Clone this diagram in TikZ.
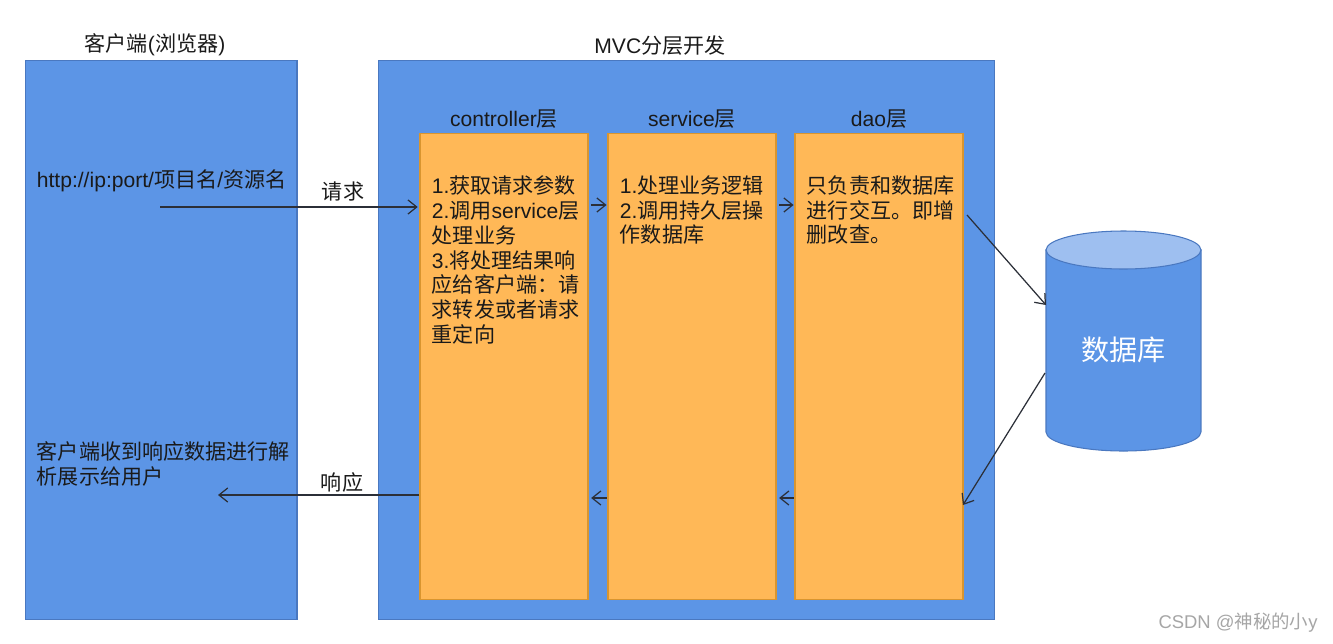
\documentclass[tikz,border=0pt]{standalone}
\usepackage{fontspec}
\setmainfont{Noto Sans CJK SC}
\newfontfamily\lat{Liberation Sans}
\usepackage{tikz}
\usetikzlibrary{positioning,arrows.meta}
\definecolor{panelblue}{HTML}{5C95E6}
\definecolor{panelline}{HTML}{4A78C0}
\definecolor{layerfill}{HTML}{FFB857}
\definecolor{layerline}{HTML}{D9952F}
\definecolor{dbtop}{HTML}{9EBFF0}
\definecolor{inkblack}{HTML}{1A1A1A}
\definecolor{arrowgrey}{HTML}{2B2F38}
\tikzset{
  panel/.style={rectangle,draw=panelline,fill=panelblue,line width=0.6pt,inner sep=0pt,minimum height=11.2cm},
  layer/.style={rectangle,draw=layerline,fill=layerfill,line width=0.6pt,inner sep=0pt,minimum width=3.36cm,minimum height=9.34cm},
  heading/.style={inner sep=2pt,text=inkblack},
  body/.style={inner sep=0pt,align=left,anchor=north west,text=inkblack,font=\fontsize{12}{14.2}\selectfont},
  flow/.style={draw=arrowgrey,line width=0.7pt,-{Straight Barb[length=5pt,width=8pt]}},
}

\begin{document}
\begin{tikzpicture}[x=0.02cm,y=-0.02cm,font=\fontsize{12}{14.2}\selectfont]
\useasboundingbox[fill=white] (0,0) rectangle (1333,643);
\node[panel,minimum width=5.44cm] (client) at (161,340) {};
\node[panel,minimum width=12.34cm] (mvc) at (686.5,340) {};
\node[heading,above=0pt of client,xshift=-0.12cm] (clienttitle) {客户端{\lat(}浏览器{\lat)}};
\node[heading,above=0pt of mvc,xshift=-0.53cm] (mvctitle) {{\lat MVC}分层开发};

\node[layer] (ctrl) at (504,366.5) {};
\node[layer] (svc) at (692,366.5) {};
\node[layer] (dao) at (879,366.5) {};
\node[heading,above=0pt of ctrl] (ctrltitle) {{\lat controller}层};
\node[heading,above=0pt of svc] (svctitle) {{\lat service}层};
\node[heading,above=0pt of dao] (daotitle) {{\lat dao}层};

\node[body] (url) at ([xshift=0.24cm,yshift=-2.2cm]client.north west) {{\lat http://ip:port/}项目名{\lat /}资源名};
\node[body] (parse) at ([xshift=0.24cm,yshift=-7.63cm]client.north west) {客户端收到响应数据进行解\\析展示给用户};
\node[body] (ctrltext) at ([xshift=0.24cm,yshift=-0.85cm]ctrl.north west) {%
  {\lat 1.}获取请求参数\\{\lat 2.}调用{\lat service}层\\处理业务\\{\lat 3.}将处理结果响\\应给客户端：请\\求转发或者请求\\重定向};
\node[body] (svctext) at ([xshift=0.24cm,yshift=-0.85cm]svc.north west) {%
  {\lat 1.}处理业务逻辑\\{\lat 2.}调用持久层操\\作数据库};
\node[body] (daotext) at ([xshift=0.24cm,yshift=-0.85cm]dao.north west) {%
  只负责和数据库\\进行交互。即增\\删改查。};

\filldraw[fill=panelblue,draw=panelline,line width=0.6pt] (1046,250) -- (1046,432)
  arc[start angle=180,end angle=360,x radius=1.55cm,y radius=0.38cm] -- (1201,250) -- cycle;
\filldraw[fill=dbtop,draw=panelline,line width=0.6pt] (1123.5,250) ellipse[x radius=1.55cm,y radius=0.38cm];
\node[text=white,font=\fontsize{16}{18}\selectfont] (db) at (1123.5,350) {数据库};

\coordinate (reqstart) at (160,207);
\coordinate (respend) at (218,495);
\coordinate (fwdrow) at (0,205);
\coordinate (backrow) at (0,498);
\coordinate (daoout) at (967,215);
\coordinate (daoin) at (963,505);
\coordinate (dbin) at (1046,305);
\coordinate (dbout) at (1045,373);

\draw[flow,shorten >=1pt] (reqstart) -- (ctrl.west |- reqstart);
\draw[flow] (ctrl.west |- respend) -- (respend);
\draw[flow,shorten <=1.5pt,shorten >=0.5pt] (ctrl.east |- fwdrow) -- (svc.west |- fwdrow);
\draw[flow,shorten <=1.5pt,shorten >=0.5pt] (svc.east |- fwdrow) -- (dao.west |- fwdrow);
\draw[flow,shorten <=0.5pt,shorten >=1.5pt] (svc.west |- backrow) -- (ctrl.east |- backrow);
\draw[flow,shorten <=0.5pt,shorten >=1.5pt] (dao.west |- backrow) -- (svc.east |- backrow);
\draw[flow] (daoout) -- (dbin);
\draw[flow] (dbout) -- (daoin);
\node[heading] (reqlabel) at (343,192) {请求};
\node[heading] (resplabel) at (342,482) {响应};

\node[text=gray!70,inner sep=0pt,anchor=east,font=\fontsize{10.5}{12}\selectfont] (mark) at (1318,623) {{\lat CSDN @}神秘的小{\lat y}};
\end{tikzpicture}
\end{document}
